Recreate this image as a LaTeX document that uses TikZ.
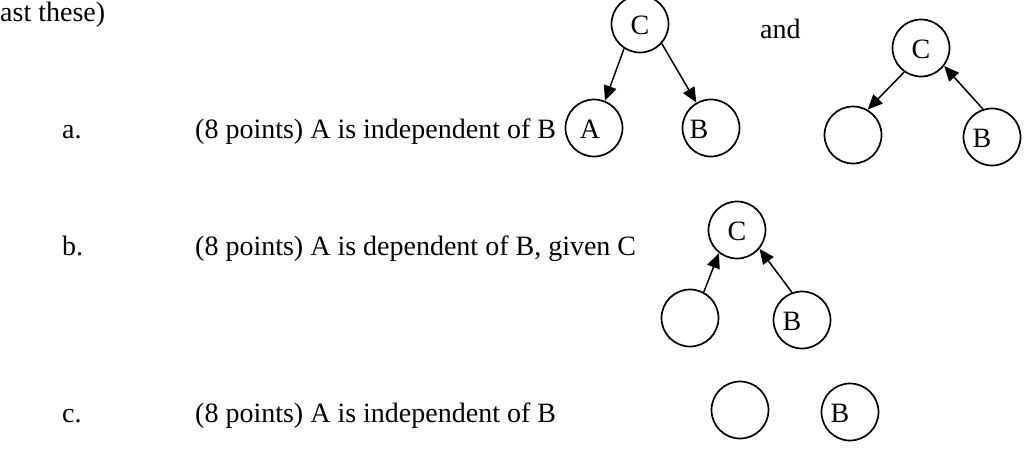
\documentclass[tikz,border=0pt]{standalone}
\usepackage{fontspec}
\setmainfont{Liberation Serif}
\usetikzlibrary{arrows.meta}
\begin{document}
\begin{tikzpicture}[x=1pt,y=-1pt,
  every node/.style={font=\fontsize{28}{33}\selectfont},
  txt/.style={anchor=base west,inner sep=0pt},
  vtx/.style={draw,line width=1.7pt,circle,minimum size=57pt,inner sep=0pt},
  lbl/.style={inner sep=0pt,anchor=base},
  arr/.style={line width=1.5pt,-{Triangle[length=15pt,width=13pt]}}]
\useasboundingbox (0,0) rectangle (1033,466);
% top line
\node[txt] (top) at (0,21) {ast these)};
% row a
\node[txt] (la) at (62,138) {a.};
\node[txt] (ta) at (195,138) {(8 points) A is independent of B};
\node[vtx] (A1) at (594,128) {};
\node[vtx] (B1) at (711,128) {};
\node[vtx] (C1) at (640,24) {};
\node[lbl] (A1l) at (590,138) {A};
\node[lbl] (B1l) at (699,138) {B};
\node[lbl] (C1l) at (640,34) {C};
\draw[arr] (C1.237) -- (A1.68);
\draw[arr] (C1.-42) -- (B1.120);
\node[txt] (and) at (760,38) {and};
\node[vtx] (C2) at (921,48) {};
\node[vtx] (N2) at (853,135) {};
\node[vtx] (B2) at (992,137) {};
\node[lbl] (C2l) at (921,58) {C};
\node[lbl] (B2l) at (982,147) {B};
\draw[arr] (C2.235) -- (N2.60);
\draw[arr] (B2.108) -- (C2.-38);
% row b
\node[txt] (lb) at (62,255) {b.};
\node[txt] (tb) at (195,255) {(8 points) A is dependent of B, given C};
\node[vtx] (C3) at (737,230) {};
\node[vtx] (N3) at (690,318) {};
\node[vtx] (B3) at (802,320) {};
\node[lbl] (C3l) at (737,240) {C};
\node[lbl] (B3l) at (792,330) {B};
\draw[arr] (N3.62) -- (C3.232);
\draw[arr] (B3.110) -- (C3.-40);
% row c
\node[txt] (lc) at (62,422) {c.};
\node[txt] (tc) at (195,422) {(8 points) A is independent of B};
\node[vtx] (N4) at (740,410) {};
\node[vtx] (B4) at (850,412) {};
\node[lbl] (B4l) at (840,422) {B};
\end{tikzpicture}
\end{document}
